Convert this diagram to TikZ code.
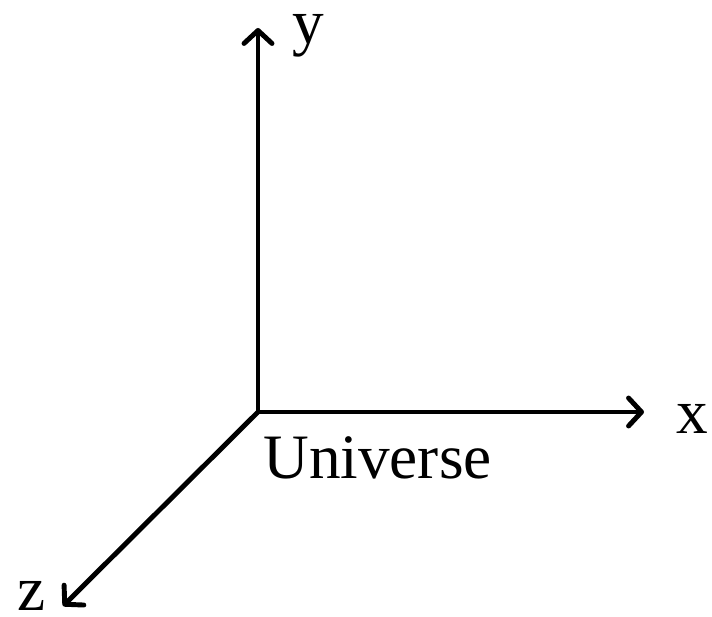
\documentclass[tikz,border=0pt]{standalone}
\usepackage{fontspec}
\setmainfont{Liberation Serif}
\usetikzlibrary{arrows.meta, positioning}

\begin{document}
\begin{tikzpicture}[
    axis/.style={draw=black, line width=2.8pt, line cap=round, line join=round,
        -{Straight Barb[length=0.26cm, width=0.56cm, line cap=round, line join=round]}},
    label/.style={anchor=base west, inner sep=0pt, font=\fontsize{36}{43}\selectfont},
    axislabel/.style={label, text height=1ex, text depth=0pt}
]
\useasboundingbox (0,0) rectangle (14.24,12.32);

% Axes
\coordinate (origin) at (5.16,4.08);
\coordinate (ytip) at (5.16,11.76);
\coordinate (xtip) at (12.88,4.08);
\coordinate (ztip) at (1.26,0.2);

\path [axis] (origin) -- (ytip);
\path [axis] (origin) -- (xtip);
\path [axis] (origin) -- (ztip);

% Labels
\node[axislabel, text depth=0.22em] (ylabel) at (5.84,11.44) {y};
\node[axislabel] (xlabel) at (13.52,3.66) {x};
\node[axislabel] (zlabel) at (0.34,0.12) {z};
\node[label] (universe) at (5.26,2.76) {Universe};

\end{tikzpicture}
\end{document}
